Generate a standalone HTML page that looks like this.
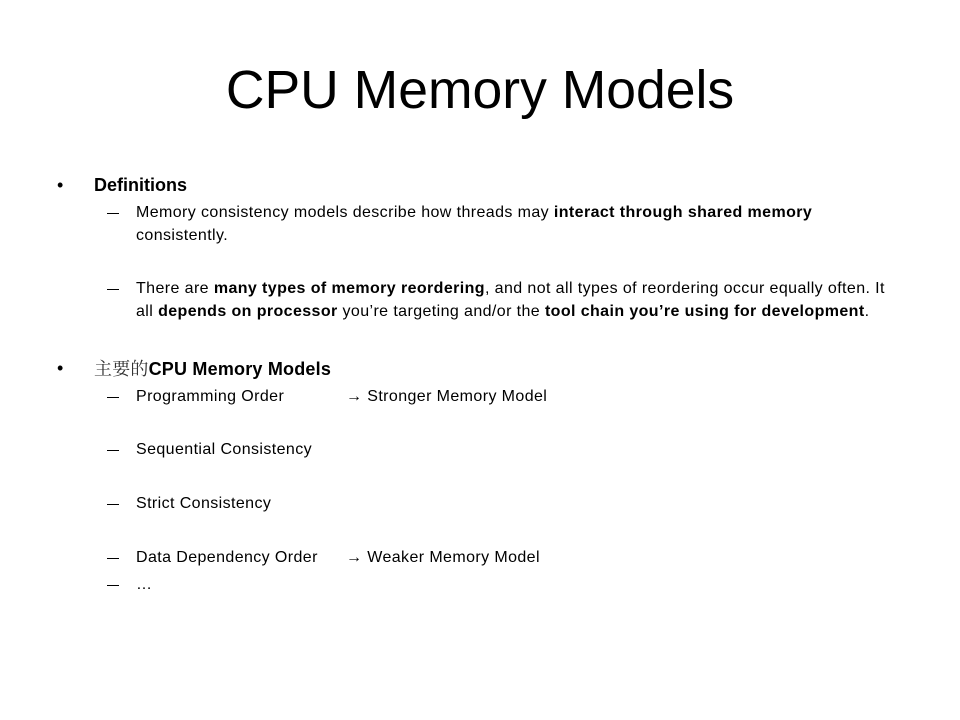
<!DOCTYPE html>
<html><head><meta charset="utf-8"><style>
body{margin:0;width:960px;height:720px;background:#fff;position:relative;overflow:hidden;font-family:"Liberation Sans","Noto Sans CJK SC",sans-serif;color:#000}
.a{position:absolute;white-space:nowrap;line-height:1}
.t{left:0;width:960px;text-align:center;top:64px;font-size:53.5px}
.b1{font-size:18px}
.s{font-size:16px;letter-spacing:0.4px}
.d{position:absolute;width:12px;height:1px;background:#000;left:107px}
b{font-weight:bold}
</style></head><body>
<div class="a t">CPU Memory Models</div>

<div class="a b1" style="left:57px;top:176px">•</div>
<div class="a b1" style="left:94px;top:176px"><b>Definitions</b></div>

<div class="d" style="top:213px"></div>
<div class="a s" style="left:136px;top:205px">Memory consistency models describe how threads may <b>interact through shared memory</b></div>
<div class="a s" style="left:136px;top:228px">consistently.</div>

<div class="d" style="top:289px"></div>
<div class="a s" style="left:136px;top:281px">There are <b>many types of memory reordering</b>, and not all types of reordering occur equally often. It</div>
<div class="a s" style="left:136px;top:304px">all <b>depends on processor</b> you’re targeting and/or the <b>tool chain you’re using for development</b>.</div>

<div class="a b1" style="left:57px;top:359px">•</div>
<div class="a b1" style="left:94px;top:359px;letter-spacing:0.2px"><span style="font-family:'Noto Serif CJK SC',serif;font-weight:normal;color:#333">主要的</span><b>CPU Memory Models</b></div>

<div class="d" style="top:397px"></div>
<div class="a s" style="left:136px;top:389px">Programming Order</div>
<div class="a s" style="left:346px;top:389px">→ Stronger Memory Model</div>

<div class="d" style="top:450px"></div>
<div class="a s" style="left:136px;top:442px">Sequential Consistency</div>

<div class="d" style="top:504px"></div>
<div class="a s" style="left:136px;top:496px">Strict Consistency</div>

<div class="d" style="top:558px"></div>
<div class="a s" style="left:136px;top:550px">Data Dependency Order</div>
<div class="a s" style="left:346px;top:550px">→ Weaker Memory Model</div>

<div class="d" style="top:585px"></div>
<div class="a s" style="left:136px;top:577px">…</div>
</body></html>
